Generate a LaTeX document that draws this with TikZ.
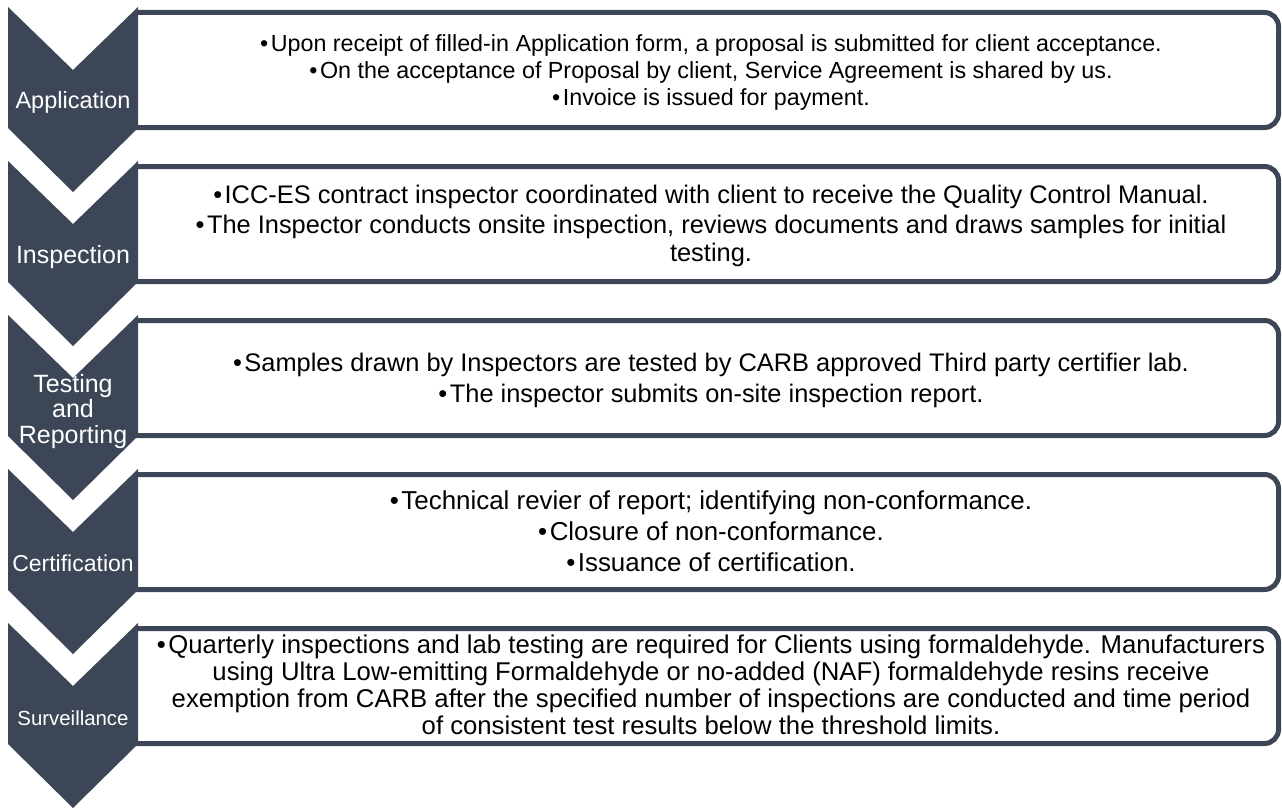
\documentclass[tikz,border=0pt]{standalone}
\usepackage{fontspec}
\setmainfont{Liberation Sans}
\definecolor{slate}{RGB}{61,70,87}
\newcommand{\bul}{•\hspace{2.5pt}}
\begin{document}
\begin{tikzpicture}[x=1pt,y=-1pt,
  chev/.style={fill=slate,draw=none},
  boxframe/.style={draw=slate,line width=5pt,fill=white,rounded corners=14pt},
  lbl/.style={text=white,align=center,inner sep=0pt,anchor=base},
  body/.style={align=center,inner sep=0pt,anchor=base,text=black}]
\useasboundingbox (0,0) rectangle (1282,808);
% content boxes
\foreach \k in {0,...,4}{
  \pgfmathsetmacro{\t}{12.5+154*\k}
  \pgfmathsetmacro{\b}{127.5+154*\k}
  \draw[boxframe] (136,\t) -- (1278.5,\t) -- (1278.5,\b) -- (136,\b);
}
% chevrons
\foreach \k in {0,...,4}{
  \pgfmathsetmacro{\y}{7+154*\k}
  \fill[chev] (8,\y) -- (73,\y+63) -- (138,\y) -- (138,\y+121) -- (73,\y+185) -- (8,\y+121) -- cycle;
}
% chevron labels (anchor = baseline of last line)
\node[lbl,font={\fontsize{23.5}{25.5}\selectfont}] (lapp) at (73,108) {Application};
\node[lbl,font={\fontsize{25}{25.5}\selectfont}] (lins) at (73,263) {Inspection};
\node[lbl,font={\fontsize{25}{25.5}\selectfont}] (ltest) at (73,443) {Testing\\and\\Reporting};
\node[lbl,font={\fontsize{23}{25.5}\selectfont}] (lcert) at (73,571) {Certification};
\node[lbl,font={\fontsize{20.4}{25.5}\selectfont}] (lsurv) at (73,725) {Surveillance};
% body texts (anchor = baseline of last line)
\node[body,font={\fontsize{23.3}{27}\selectfont}] (tapp) at (711,105)
 {\bul Upon receipt of filled-in Application form, a proposal is submitted for client acceptance.\\
  \bul On the acceptance of Proposal by client, Service Agreement is shared by us.\\
  \bul Invoice is issued for payment.};
\node[body,font={\fontsize{25.4}{28}\selectfont}] (tins) at (711,261)
 {\bul ICC-ES contract inspector coordinated with client to receive the Quality Control Manual.\\[2pt]
  \bul The Inspector conducts onsite inspection, reviews documents and draws samples for initial\\
  testing.};
\node[body,font={\fontsize{25.4}{31}\selectfont}] (ttest) at (711,402)
 {\bul Samples drawn by Inspectors are tested by CARB approved Third party certifier lab.\\
  \bul The inspector submits on-site inspection report.};
\node[body,font={\fontsize{25.9}{31}\selectfont}] (tcert) at (711,571)
 {\bul Technical revier of report; identifying non-conformance.\\
  \bul Closure of non-conformance.\\
  \bul Issuance of certification.};
\node[body,font={\fontsize{25.7}{26.7}\selectfont}] (tsurv) at (711,734)
 {\bul Quarterly inspections and lab testing are required for Clients using formaldehyde. Manufacturers\\
  using Ultra Low-emitting Formaldehyde or no-added (NAF) formaldehyde resins receive\\
  exemption from CARB after the specified number of inspections are conducted and time period\\
  of consistent test results below the threshold limits.};
\end{tikzpicture}
\end{document}
